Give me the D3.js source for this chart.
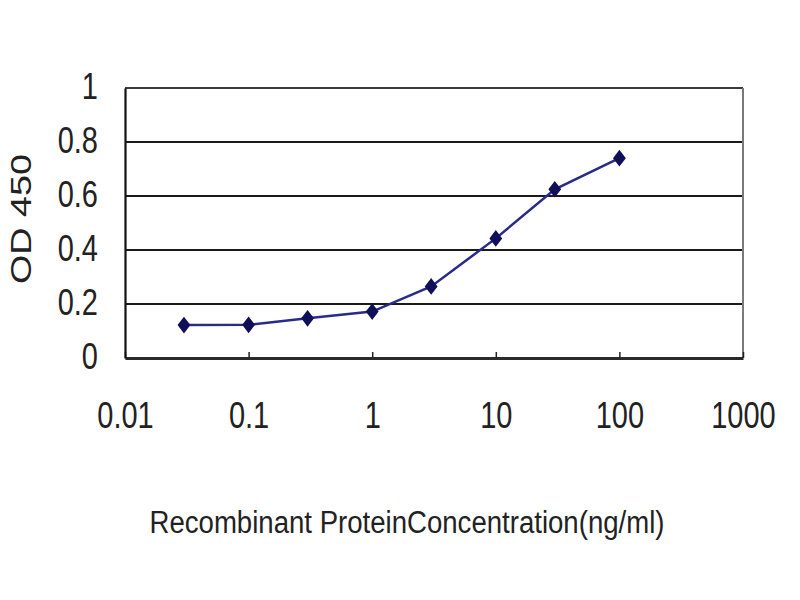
<!DOCTYPE html>
<html>
<head>
<meta charset="utf-8">
<script src="https://cdn.jsdelivr.net/npm/d3@7"></script>
<style>
html,body{margin:0;padding:0;background:#fff;}
svg{display:block;}
text{font-family:Arial,"Liberation Sans",sans-serif;fill:#222;}
</style>
</head>
<body>
<svg id="chart" width="800" height="600"></svg>
<script>
const concentrations = [0.03, 0.1, 0.3, 1, 3, 10, 30, 100];
const od450 = [0.122, 0.123, 0.147, 0.172, 0.265, 0.443, 0.625, 0.74];
const xTickValues = [0.01, 0.1, 1, 10, 100, 1000];
const xTickLabels = ["0.01", "0.1", "1", "10", "100", "1000"];
const yTickValues = [0, 0.2, 0.4, 0.6, 0.8, 1];
const yTickLabels = ["0", "0.2", "0.4", "0.6", "0.8", "1"];
const xTitle = "Recombinant ProteinConcentration(ng/ml)";
const yTitle = "OD 450";

const svg = d3.select("#chart");
const L = 125, R = 743, T = 88, B = 358;
const STRETCH = 1.3;

const x = d3.scaleLog().domain([0.01, 1000]).range([L, R]);
const y = d3.scaleLinear().domain([0, 1]).range([B, T]);

svg.append("rect").attr("width", 800).attr("height", 600).attr("fill", "#fff");

// gridlines
svg.append("g").selectAll("line").data(yTickValues.filter(v => v > 0 && v < 1)).join("line")
  .attr("x1", L).attr("x2", R).attr("y1", d => y(d)).attr("y2", d => y(d))
  .attr("stroke", "#1a1a1a").attr("stroke-width", 2.2);

// top and right frame
svg.append("line").attr("x1", L).attr("x2", R).attr("y1", y(1)).attr("y2", y(1))
  .attr("stroke", "#3a3a3a").attr("stroke-width", 2);
svg.append("line").attr("x1", R).attr("x2", R).attr("y1", y(1)).attr("y2", B)
  .attr("stroke", "#7a7a7a").attr("stroke-width", 2);

// x axis
const xAxis = svg.append("g").attr("transform", `translate(0,${B})`)
  .call(d3.axisBottom(x).tickValues(xTickValues).tickSizeInner(-6).tickSizeOuter(0)
    .tickFormat((d, i) => xTickLabels[i]));
xAxis.select(".domain").attr("stroke", "#2a2a2a").attr("stroke-width", 3);
xAxis.selectAll(".tick line").attr("stroke", "#222").attr("stroke-width", 1.5);
xAxis.selectAll(".tick text")
  .attr("y", 0).attr("dy", 0)
  .attr("transform", `translate(0,${70}) scale(1,${STRETCH})`)
  .attr("font-size", 29).attr("fill", "#222")
  .attr("font-family", "Arial, 'Liberation Sans', sans-serif");

// y axis
const yAxis = svg.append("g").attr("transform", `translate(${L},0)`)
  .call(d3.axisLeft(y).tickValues(yTickValues).tickSize(0).tickPadding(0)
    .tickFormat((d, i) => yTickLabels[i]));
yAxis.select(".domain").attr("stroke", "#111").attr("stroke-width", 2.2);
yAxis.selectAll(".tick text")
  .attr("x", 0).attr("dy", 0)
  .attr("text-anchor", "end")
  .attr("transform", `translate(-27,${10}) scale(1,${STRETCH})`)
  .attr("font-size", 29).attr("fill", "#222")
  .attr("font-family", "Arial, 'Liberation Sans', sans-serif");

// line
const line = d3.line().x((d, i) => x(concentrations[i])).y(d => y(d));
svg.append("path").datum(od450).attr("d", line)
  .attr("fill", "none").attr("stroke", "#2a2a8a").attr("stroke-width", 2.5);

// markers
const diamondType = d3.symbolDiamond2 || d3.symbolSquare;
const sym = d3.symbol().type(diamondType).size(105);
svg.append("g").selectAll("path").data(od450).join("path")
  .attr("d", sym())
  .attr("transform", (d, i) => `translate(${x(concentrations[i])},${y(d)}) scale(1,${STRETCH})` + (d3.symbolDiamond2 ? "" : " rotate(45)"))
  .attr("fill", "#10105a");

// titles
svg.append("text").attr("transform", `translate(407,533) scale(1,${STRETCH})`)
  .attr("text-anchor", "middle").attr("font-size", 24.5)
  .attr("textLength", 515).attr("lengthAdjust", "spacingAndGlyphs")
  .text(xTitle);
svg.append("text").attr("transform", `translate(31,219) rotate(-90) scale(${STRETCH},1)`)
  .attr("text-anchor", "middle").attr("font-size", 29)
  .text(yTitle);
</script>
</body>
</html>
